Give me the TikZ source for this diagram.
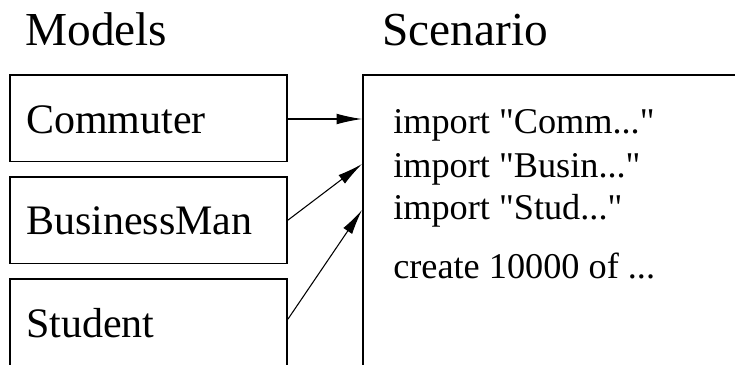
\documentclass[tikz,border=0pt]{standalone}
\usepackage{fontspec}
\setmainfont{Liberation Serif}[Ligatures=TeXOff]
\usetikzlibrary{arrows.meta}

\tikzset{
  modelbox/.style={draw, line width=1.2pt, minimum width=208pt, minimum height=65pt,
    anchor=north west, inner sep=0pt},
  modeltext/.style={anchor=base west, inner sep=0pt, font=\fontsize{31.5}{36}\selectfont},
  scenbox/.style={draw, line width=1.2pt, minimum width=300pt, minimum height=240pt,
    anchor=north west, inner sep=0pt},
  title/.style={anchor=base west, inner sep=0pt, font=\fontsize{35.5}{40}\selectfont},
  codeline/.style={anchor=base west, inner sep=0pt, font=\fontsize{27.2}{30}\selectfont},
  link/.style={-{Latex[length=19pt, width=8pt]}, line width=0.8pt}
}

\begin{document}
\begin{tikzpicture}[x=0.75pt, y=-0.75pt]

		\useasboundingbox (0,0) rectangle (735,364);
		\clip (0,0) rectangle (735,364);

		% Titel
		\node[title] (modelstitle) at (25,45) {Models};
		\node[title] (scentitle) at (382,45) {Scenario};

		% Modelle links
		\node[modelbox] (commuter) at (9,74) {};
		\node[modelbox] (business) at (9,176) {};
		\node[modelbox] (student) at (9,278) {};
		\node[modeltext] (lcommuter) at (26,133) {Commuter};
		\node[modeltext] (lbusiness) at (26,234) {BusinessMan};
		\node[modeltext] (lstudent) at (26,337) {Student};

		% Szenario rechts
		\node[scenbox] (scenario) at (362,74) {};
		\node[codeline] (imp1) at (393,133) {import "Comm..."};
		\node[codeline] (imp2) at (393,177) {import "Busin..."};
		\node[codeline] (imp3) at (393,219) {import "Stud..."};
		\node[codeline] (create) at (393,278) {create 10000 of ...};

		% Pfeile
		\coordinate (in1) at (362,119);
		\coordinate (in2) at (362,164);
		\coordinate (in3) at (362,210);
		\draw[link] (commuter.east |- in1) -- (in1);
		\draw[link] (business.east) -- (in2);
		\draw[link] (student.east) ++(0,-3) -- (in3);

\end{tikzpicture}
\end{document}
